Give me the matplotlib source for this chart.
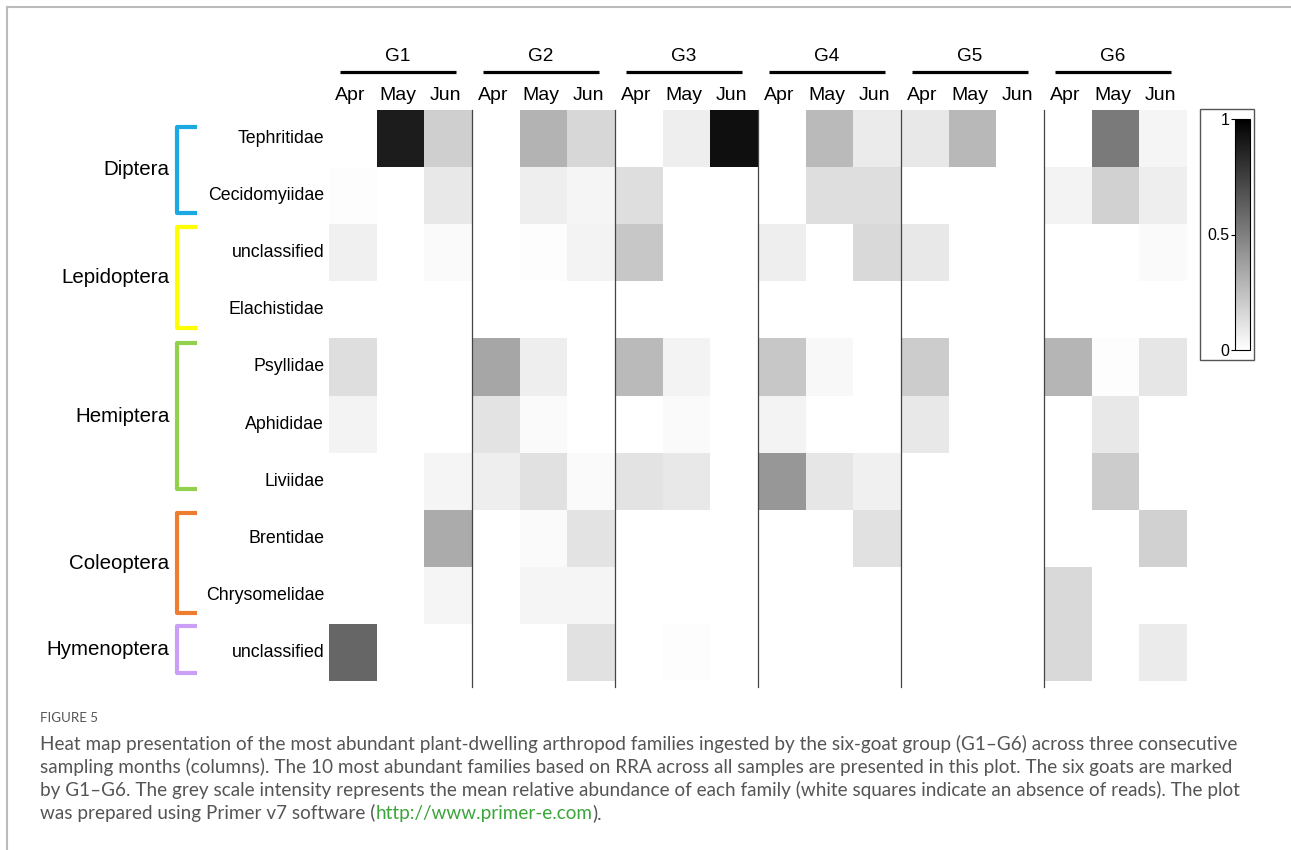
import numpy as np
import matplotlib
matplotlib.use('Agg')
import matplotlib.pyplot as plt
from matplotlib.colors import LinearSegmentedColormap
from matplotlib.patches import Rectangle

# mean relative abundance, columns = G1..G6 x (Apr, May, Jun)
tephritidae      = [0, 0.89, 0.19, 0, 0.30, 0.16, 0, 0.07, 0.94, 0, 0.27, 0.08, 0.09, 0.28, 0, 0, 0.52, 0.04]
cecidomyiidae    = [0.01, 0, 0.09, 0, 0.07, 0.04, 0.13, 0, 0, 0, 0.13, 0.13, 0, 0, 0, 0.05, 0.18, 0.07]
lep_unclassified = [0.06, 0, 0.02, 0, 0.01, 0.05, 0.22, 0, 0, 0.07, 0, 0.15, 0.09, 0, 0, 0, 0, 0.02]
elachistidae     = [0, 0, 0, 0, 0, 0, 0, 0, 0, 0, 0, 0, 0, 0, 0, 0, 0, 0]
psyllidae        = [0.13, 0, 0, 0.35, 0.07, 0, 0.27, 0.05, 0, 0.22, 0.03, 0, 0.20, 0, 0, 0.29, 0.01, 0.10]
aphididae        = [0.05, 0, 0, 0.11, 0.02, 0, 0, 0.02, 0, 0.05, 0, 0, 0.09, 0, 0, 0, 0.09, 0]
liviidae         = [0, 0, 0.04, 0.07, 0.12, 0.02, 0.11, 0.09, 0, 0.41, 0.10, 0.06, 0, 0, 0, 0, 0.20, 0]
brentidae        = [0, 0, 0.33, 0, 0.02, 0.11, 0, 0, 0, 0, 0, 0.12, 0, 0, 0, 0, 0, 0.18]
chrysomelidae    = [0, 0, 0.04, 0, 0.04, 0.04, 0, 0, 0, 0, 0, 0, 0, 0, 0, 0.15, 0, 0]
hym_unclassified = [0.60, 0, 0, 0, 0, 0.12, 0, 0.01, 0, 0, 0, 0, 0, 0, 0, 0.15, 0, 0.08]

families = ['Tephritidae', 'Cecidomyiidae', 'unclassified', 'Elachistidae', 'Psyllidae',
            'Aphididae', 'Liviidae', 'Brentidae', 'Chrysomelidae', 'unclassified']
groups = ['G1', 'G2', 'G3', 'G4', 'G5', 'G6']
months = ['Apr', 'May', 'Jun']
orders = ['Diptera', 'Lepidoptera', 'Hemiptera', 'Coleoptera', 'Hymenoptera']
order_colors = ['#1aa9e2', '#ffff00', '#92d050', '#ed7d31', '#c9a0f5']

caption_lines = [
    'Heat map presentation of the most abundant plant-dwelling arthropod families ingested by the six-goat group (G1\u2013G6) across three consecutive',
    'sampling months (columns). The 10 most abundant families based on RRA across all samples are presented in this plot. The six goats are marked',
    'by G1\u2013G6. The grey scale intensity represents the mean relative abundance of each family (white squares indicate an absence of reads). The plot',
]

W, H = 1291, 850
plt.rcParams['font.family'] = ['Liberation Sans', 'DejaVu Sans']
fig = plt.figure(figsize=(W / 100, H / 100), dpi=100)

def fx(px):
    return px / W

def fy(py):
    return 1 - py / H

grid = np.array([tephritidae, cecidomyiidae, lep_unclassified, elachistidae, psyllidae,
                 aphididae, liviidae, brentidae, chrysomelidae, hym_unclassified])
cmap = LinearSegmentedColormap.from_list('wb', ['#ffffff', '#000000'])

ax = fig.add_axes([fx(329), fy(681), fx(1187) - fx(329), fy(110) - fy(681)])
mesh = ax.pcolormesh(np.arange(grid.shape[1] + 1), np.arange(grid.shape[0] + 1), grid,
                     cmap=cmap, vmin=0, vmax=1)
ax.set_xlim(0, 18)
ax.set_ylim(10, 0)
ax.axis('off')

# group separators
for g in range(1, len(groups)):
    ax.plot([3 * g, 3 * g], [0, 10.1], color='#444444', lw=0.9, clip_on=False)

# header: group names, bars, months
for g, name in enumerate(groups):
    ax.text(3 * g + 1.45, -0.93, name, ha='center', va='center', fontsize=13.7)
    ax.plot([3 * g + 0.23, 3 * g + 2.67], [-0.665, -0.665], color='black', lw=2.3,
            solid_capstyle='butt', clip_on=False)
    for m, mon in enumerate(months):
        ax.text(3 * g + m + 0.45, -0.25, mon, ha='center', va='center', fontsize=14)

# family labels
for i, name in enumerate(families):
    ax.text(-0.1, i + 0.5, name, ha='right', va='center', fontsize=12.8)

# order brackets (top, bottom in row units)
spans = [(0.30, 1.80), (2.05, 3.82), (4.08, 6.64), (7.06, 8.81), (9.04, 9.86)]
xv, xa = -3.19, -2.77
for name, col, (top, bot) in zip(orders, order_colors, spans):
    ax.plot([xa, xv, xv, xa], [top, top, bot, bot], color=col, lw=3,
            solid_joinstyle='round', solid_capstyle='butt', clip_on=False)
    ax.text(-3.35, (top + bot) / 2, name, ha='right', va='center', fontsize=14.8)

# colour bar
cax = fig.add_axes([fx(1235), fy(350), fx(1250) - fx(1235), fy(119) - fy(350)])
cb = fig.colorbar(mesh, cax=cax, ticks=[0, 0.5, 1])
cax.yaxis.set_ticks_position('left')
cax.set_yticklabels(['0', '0.5', '1'])
cax.tick_params(labelsize=11.4, length=3, width=0.8, pad=1)
cb.outline.set_linewidth(0.8)
fig.add_artist(Rectangle((fx(1200), fy(360)), fx(1254) - fx(1200), fy(109) - fy(360),
                         transform=fig.transFigure, fill=False, ec='#555555', lw=1))

# page frame
fig.add_artist(plt.Line2D([fx(7), 1], [fy(7), fy(7)], transform=fig.transFigure,
                          color='#bbbbbb', lw=1.5))
fig.add_artist(plt.Line2D([fx(7), fx(7)], [fy(7), 0], transform=fig.transFigure,
                          color='#bbbbbb', lw=1.5))

# caption
cap_font = ['Lato', 'DejaVu Sans']
cap_size = 13.6
fig.text(fx(40), fy(718), 'FIGURE 5', family=cap_font, color='#555555',
         fontsize=9.6, va='center')
for k, line in enumerate(caption_lines):
    fig.text(fx(40), fy(744 + 23 * k), line, family=cap_font, color='#555555',
             fontsize=cap_size, va='center')
t1 = fig.text(fx(40), fy(744 + 23 * 3), 'was prepared using Primer v7 software (',
              family=cap_font, color='#555555', fontsize=cap_size, va='center')
t2 = fig.text(0, 0, '', fontsize=cap_size)
t2 = plt.annotate('http://www.primer-e.com', xy=(1, 0), xycoords=t1, va='bottom',
                  family=cap_font, color='#3aa53a', fontsize=cap_size)
plt.annotate(').', xy=(1, 0), xycoords=t2, va='bottom',
             family=cap_font, color='#555555', fontsize=cap_size)

fig.savefig('out.png', dpi=100)
